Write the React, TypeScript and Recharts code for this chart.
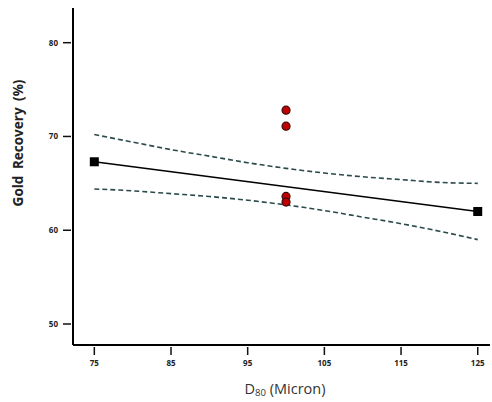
import { ComposedChart, Line, Scatter, XAxis, YAxis } from 'recharts';

// confidence band
const ciX = [75, 80, 85, 90, 95, 100, 105, 110, 115, 120, 125];
const ciUpper = [70.2, 69.4, 68.6, 67.9, 67.2, 66.6, 66.1, 65.7, 65.4, 65.1, 65.0];
const ciLower = [64.4, 64.2, 63.9, 63.6, 63.2, 62.7, 62.1, 61.4, 60.7, 59.9, 59.0];

// fitted line endpoints
const fitX = [75, 125];
const fitY = [67.3, 62.0];

// observed runs
const obsX = [100, 100, 100, 100];
const obsY = [72.8, 71.1, 63.6, 63.0];

const xTicks = [75, 85, 95, 105, 115, 125];
const yTicks = [50, 60, 70, 80];

const upperData = ciX.map((x, i) => ({ x, y: ciUpper[i] }));
const lowerData = ciX.map((x, i) => ({ x, y: ciLower[i] }));
const fitData = fitX.map((x, i) => ({ x, y: fitY[i] }));
const obsData = obsX.map((x, i) => ({ x, y: obsY[i] }));

const font = '"Open Sans", "Liberation Sans", sans-serif';
const dashColor = '#2b4a4a';

const XTick = (props: any) => {
  const { x, y, payload } = props;
  return (
    <g>
      <line x1={x} x2={x} y1={y + 2} y2={y + 10} stroke="#111" strokeWidth={1.5} />
      <text x={x} y={y + 21} textAnchor="middle" fontSize={8} fontWeight="bold" fontFamily={font} fill="#222">
        {payload.value}
      </text>
    </g>
  );
};

const YTick = (props: any) => {
  const { x, y, payload } = props;
  return (
    <g>
      <line x1={x - 10} x2={x - 2} y1={y} y2={y} stroke="#111" strokeWidth={1.5} />
      <text x={x - 15} y={y + 3} textAnchor="end" fontSize={8} fontWeight="bold" fontFamily={font} fill="#222">
        {payload.value}
      </text>
    </g>
  );
};

const Square = (props: any) => {
  const { cx, cy } = props;
  if (cx == null || cy == null) return null;
  return <rect x={cx - 4.5} y={cy - 4.5} width={9} height={9} fill="#000" />;
};

const RedDot = (props: any) => {
  const { cx, cy } = props;
  return <circle cx={cx} cy={cy} r={4} fill="#c00000" stroke="#3a0a0a" strokeWidth={1.2} />;
};

export default function App() {
  return (
    <div style={{ position: 'absolute', left: 0, top: 0, background: '#fff' }}>
      <ComposedChart width={492} height={402} margin={{ top: 8, right: 2, left: 0, bottom: 0 }}>
        <XAxis
          type="number"
          dataKey="x"
          domain={[72.22, 126.6]}
          ticks={xTicks}
          allowDataOverflow
          height={57}
          stroke="#000"
          strokeWidth={2}
          tickSize={0}
          tickMargin={0}
          tickLine={false}
          tick={<XTick />}
          label={{
            content: () => (
              <text x={285} y={394} textAnchor="middle" fontSize={14.5} fontFamily={font} fill="#333">
                D<tspan fontSize={9.5} dy={2}>80</tspan>
                <tspan dy={-2}> (Micron)</tspan>
              </text>
            ),
          }}
        />
        <YAxis
          type="number"
          dataKey="y"
          domain={[47.76, 83.7]}
          ticks={yTicks}
          allowDataOverflow
          width={73}
          stroke="#000"
          strokeWidth={2}
          tickSize={0}
          tickMargin={0}
          tickLine={false}
          tick={<YTick />}
          label={{
            content: () => (
              <text
                x={19}
                y={143}
                transform="rotate(-90 19 143)"
                textAnchor="middle"
                dominantBaseline="middle"
                fontSize={13.5}
                fontWeight="bold"
                wordSpacing={3}
                fontFamily={font}
                fill="#222"
              >
                Gold Recovery (%)
              </text>
            ),
          }}
        />
        <Line
          data={upperData}
          dataKey="y"
          type="monotone"
          stroke={dashColor}
          strokeWidth={1.6}
          strokeDasharray="5 3"
          dot={false}
          activeDot={false}
          isAnimationActive={false}
        />
        <Line
          data={lowerData}
          dataKey="y"
          type="monotone"
          stroke={dashColor}
          strokeWidth={1.6}
          strokeDasharray="5 3"
          dot={false}
          activeDot={false}
          isAnimationActive={false}
        />
        <Line
          data={fitData}
          dataKey="y"
          type="linear"
          stroke="#000"
          strokeWidth={1.5}
          dot={<Square />}
          activeDot={false}
          isAnimationActive={false}
        />
        <Scatter data={obsData} dataKey="y" shape={<RedDot />} isAnimationActive={false} />
      </ComposedChart>
    </div>
  );
}
